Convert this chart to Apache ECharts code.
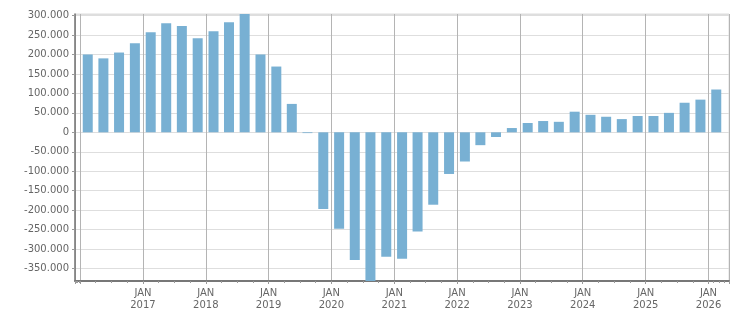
<!DOCTYPE html>
<html>
<head>
<meta charset="utf-8">
<script src="https://cdn.jsdelivr.net/npm/echarts@6/dist/echarts.min.js"></script>
<style>
  html, body { margin: 0; padding: 0; background: #fff; }
  #chart { width: 751px; height: 313px; }
</style>
</head>
<body>
<div id="chart"></div>
<script>
// quarterly dates (bar centred mid-quarter)
const quarters = [
  '2016-02-15', '2016-05-16', '2016-08-15', '2016-11-15',
  '2017-02-15', '2017-05-16', '2017-08-15', '2017-11-15',
  '2018-02-15', '2018-05-16', '2018-08-15', '2018-11-15',
  '2019-02-15', '2019-05-16', '2019-08-15', '2019-11-15',
  '2020-02-15', '2020-05-16', '2020-08-15', '2020-11-15',
  '2021-02-15', '2021-05-16', '2021-08-15', '2021-11-15',
  '2022-02-15', '2022-05-16', '2022-08-15', '2022-11-15',
  '2023-02-15', '2023-05-16', '2023-08-15', '2023-11-15',
  '2024-02-15', '2024-05-16', '2024-08-15', '2024-11-15',
  '2025-02-15', '2025-05-16', '2025-08-15', '2025-11-15',
  '2026-02-15',
]
const values = [
  200000, 190000, 205000, 229000,
  257000, 280000, 273000, 242000,
  260000, 283000, 304000, 200000,
  169000, 73000, -2000, -197000,
  -248000, -328000, -382000, -320000,
  -325000, -255000, -186000, -107000,
  -75000, -33000, -12000, 11000,
  24000, 29000, 27000, 53000,
  45000, 40000, 34000, 42000,
  42000, 50000, 76000, 84000,
  110000,
]
const axisStart = '2016-01-01'
const axisEnd = '2026-04-01'

const chart = echarts.init(document.getElementById('chart'))

function fmtThousands(v) {
  const s = Math.abs(v).toFixed(0).replace(/\B(?=(\d{3})+(?!\d))/g, '.')
  return (v < 0 ? '-' : '') + s
}

const startYear = new Date(axisStart).getFullYear()
const labelStyle = { color: '#666', fontFamily: 'DejaVu Sans', fontSize: 10 }

chart.setOption({
  animation: false,
  grid: {
    left: 75, right: 22, top: 14, bottom: 32,
    show: true, borderColor: '#ddd', borderWidth: 1,
  },
  xAxis: {
    type: 'time',
    min: axisStart,
    max: axisEnd,
    splitNumber: 10,
    axisLine: { onZero: false, lineStyle: { color: '#777', width: 2 } },
    axisTick: { show: true, length: 3, lineStyle: { color: '#999' } },
    minorTick: { show: true, splitNumber: 4, length: 2, lineStyle: { color: '#999' } },
    splitLine: { show: true, lineStyle: { color: '#b4b4b4', width: 1 } },
    axisLabel: {
      ...labelStyle,
      lineHeight: 12,
      margin: 6,
      showMinLabel: false,
      showMaxLabel: false,
      formatter: (val) => {
        const y = new Date(val).getFullYear()
        return y === startYear ? '' : 'JAN\n' + y
      },
    },
  },
  yAxis: {
    type: 'value',
    min: 'dataMin',
    max: 'dataMax',
    splitNumber: 14,
    axisLine: { show: true, lineStyle: { color: '#777', width: 1.5 } },
    axisTick: { show: true, length: 3, lineStyle: { color: '#999' } },
    splitLine: { lineStyle: { color: '#dedede', width: 1 } },
    axisLabel: {
      ...labelStyle,
      margin: 6,
      showMinLabel: false,
      showMaxLabel: false,
      formatter: fmtThousands,
    },
  },
  series: [
    {
      type: 'bar',
      data: quarters.map((d, i) => [d, values[i]]),
      barWidth: 10,
      itemStyle: { color: '#78b0d3' },
    },
  ],
})
</script>
</body>
</html>
